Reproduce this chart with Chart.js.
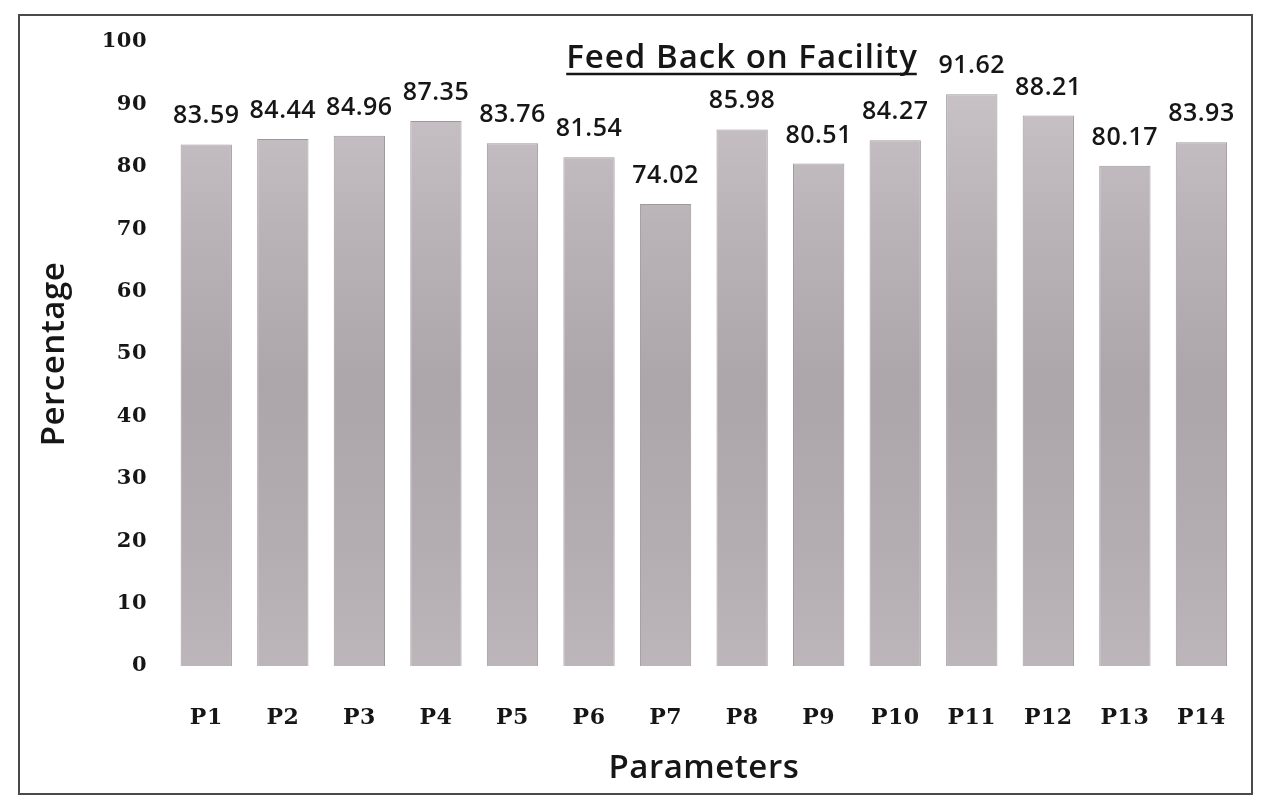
<!DOCTYPE html>
<html>
<head>
<meta charset="utf-8">
<script src="https://cdn.jsdelivr.net/npm/chart.js@4.4.1/dist/chart.umd.min.js"></script>
<style>
html,body{margin:0;padding:0;background:#fff;}
#wrap{width:1264px;height:799px;position:relative;}
</style>
</head>
<body>
<div id="wrap"><canvas id="c" width="1264" height="799"></canvas></div>
<script>
const categories = ["P1","P2","P3","P4","P5","P6","P7","P8","P9","P10","P11","P12","P13","P14"];
const values = [83.59,84.44,84.96,87.35,83.76,81.54,74.02,85.98,80.51,84.27,91.62,88.21,80.17,83.93];
const yTicks = [0,10,20,30,40,50,60,70,80,90,100];
const chartTitle = "Feed Back on Facility";
const xTitle = "Parameters";
const yTitle = "Percentage";

const ink = "#161616";

function barFill(context){
  const chart = context.chart;
  const a = chart.chartArea;
  if(!a) return "#b9b2b6";
  const g = chart.ctx.createLinearGradient(0, a.top, 0, a.bottom);
  g.addColorStop(0, "#cdc7cb");
  g.addColorStop(0.3, "#b9b2b7");
  g.addColorStop(0.55, "#aca5aa");
  g.addColorStop(0.8, "#b3acb1");
  g.addColorStop(1, "#bcb5b9");
  return g;
}

const framePlugin = {
  id: "frame",
  beforeDraw(chart){
    const ctx = chart.ctx;
    ctx.fillStyle = "#ffffff";
    ctx.fillRect(0,0,chart.width,chart.height);
    ctx.save();
    ctx.strokeStyle = "#4a4a4a";
    ctx.lineWidth = 2;
    ctx.strokeRect(19,15,1233,779);
    ctx.restore();
    ctx.letterSpacing = "0.5px";
  },
  afterDraw(chart){
    const ctx = chart.ctx;
    ctx.save();
    ctx.letterSpacing = "1px";
    ctx.font = "600 33px 'Open Sans'";
    ctx.fillStyle = ink;
    ctx.textAlign = "center";
    ctx.textBaseline = "alphabetic";
    const tx = 742, ty = 68;
    ctx.fillText(chartTitle, tx, ty);
    const w = ctx.measureText(chartTitle).width;
    ctx.strokeStyle = ink;
    ctx.lineWidth = 2.5;
    ctx.beginPath();
    ctx.moveTo(tx - w/2, ty + 6);
    ctx.lineTo(tx + w/2 - 1, ty + 6);
    ctx.stroke();
    const meta = chart.getDatasetMeta(0);
    ctx.letterSpacing = "0.5px";
    ctx.font = "600 25px 'Open Sans'";
    meta.data.forEach((bar, i) => {
      ctx.fillText(values[i].toFixed(2), bar.x, bar.y - 21);
    });
    ctx.restore();
    ctx.letterSpacing = "0px";
  }
};

new Chart(document.getElementById("c"), {
  type: "bar",
  data: {
    labels: categories,
    datasets: [{
      data: values,
      backgroundColor: barFill,
      borderColor: "#9f989c",
      borderWidth: 1,
      barPercentage: 0.67,
      categoryPercentage: 1.0
    }]
  },
  options: {
    responsive: false,
    animation: false,
    devicePixelRatio: 1,
    layout: { padding: { top: 42, left: 20, right: -6, bottom: 8 } },
    plugins: {
      legend: { display: false },
      title: { display: false },
      tooltip: { enabled: false }
    },
    scales: {
      x: {
        grid: { display: false, drawTicks: false },
        border: { display: false },
        ticks: {
          color: ink,
          padding: 39,
          font: { family: "'DejaVu Serif'", weight: "bold", size: 22 }
        },
        title: {
          display: true,
          text: xTitle,
          color: ink,
          padding: { top: 4, bottom: 3 },
          font: { family: "'Open Sans'", weight: "600", size: 33 }
        },
        afterFit(s){ s.height = 125; }
      },
      y: {
        min: 0, max: 100,
        afterBuildTicks(s){ s.ticks = yTicks.map(v => ({ value: v })); },
        grid: { display: false, drawTicks: false },
        border: { display: false },
        ticks: {
          color: ink,
          padding: 21,
          font: { family: "'DejaVu Serif'", weight: "bold", size: 21 }
        },
        title: {
          display: true,
          text: yTitle,
          color: ink,
          padding: { top: 15, bottom: 2 },
          font: { family: "'Open Sans'", weight: "600", size: 33 }
        },
        afterFit(s){ s.width = 148; }
      }
    }
  },
  plugins: [framePlugin]
});
</script>
</body>
</html>
